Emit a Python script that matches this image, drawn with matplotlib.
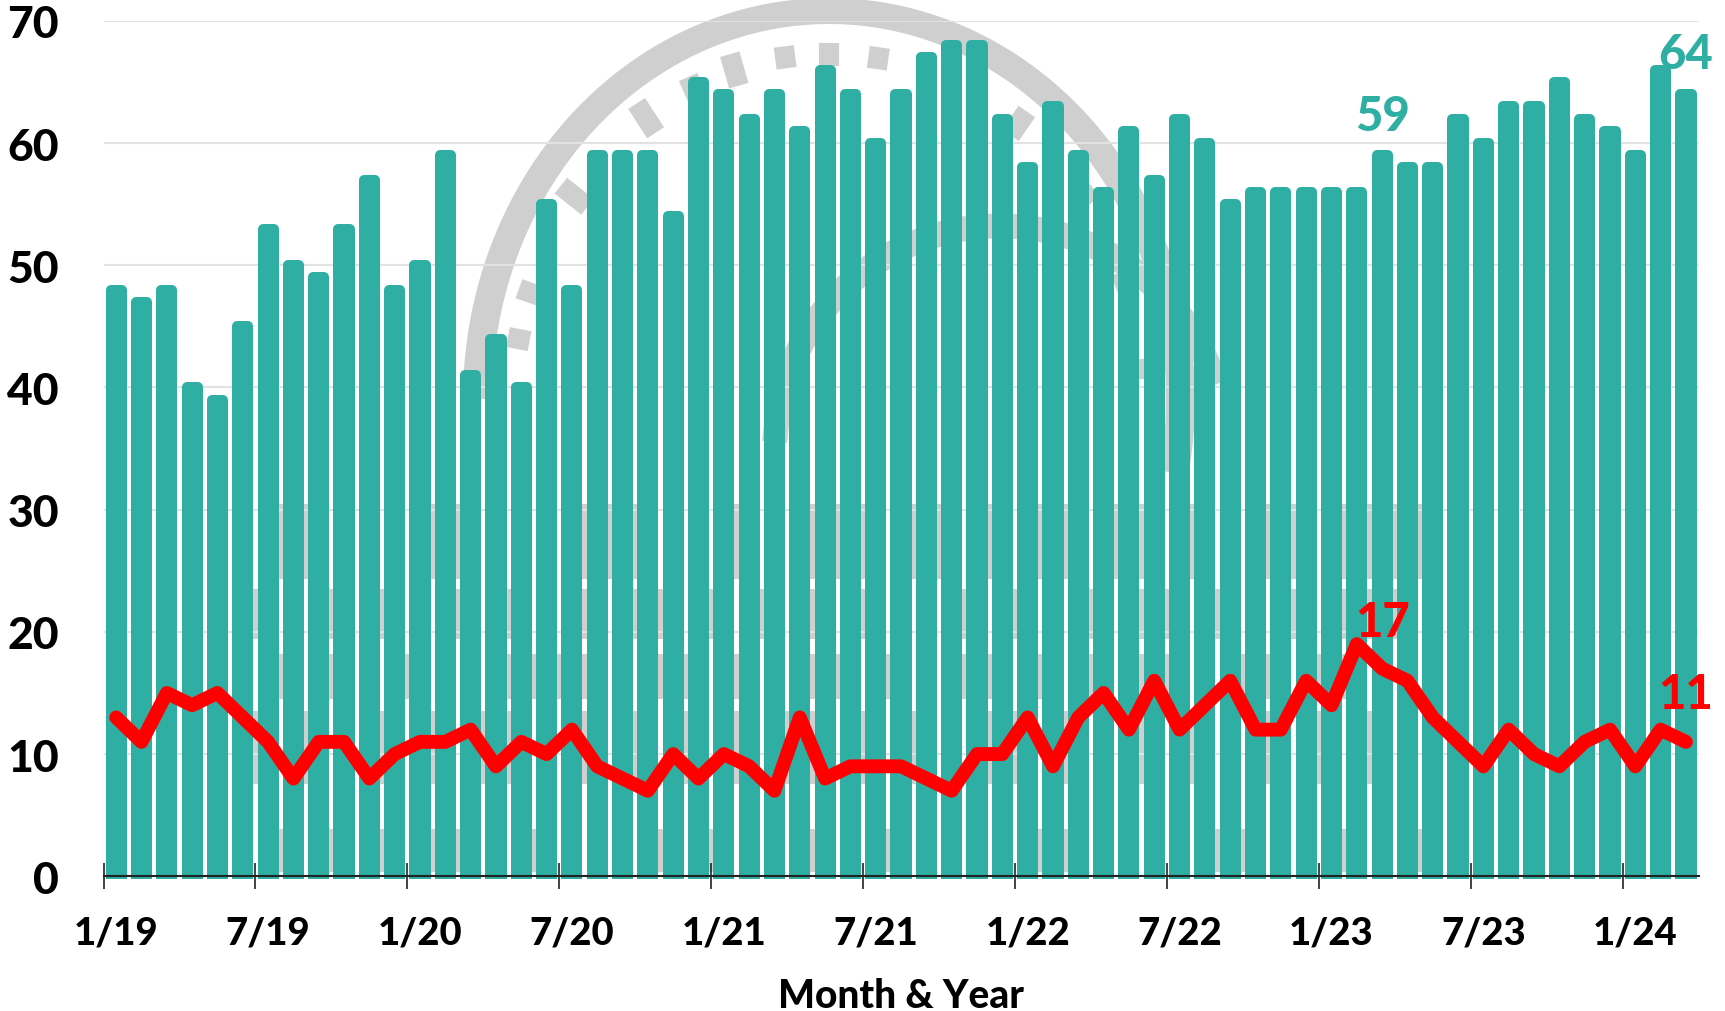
import numpy as np
import matplotlib
matplotlib.use("Agg")
import matplotlib.pyplot as plt
from matplotlib.patches import Rectangle, Polygon

months = ["1/19","7/19","1/20","7/20","1/21","7/21","1/22","7/22","1/23","7/23","1/24"]
bars = [48,47,48,40,39,45, 53,50,49,53,57,48, 50,59,41,44,40,55,
        48,59,59,59,54,65, 64,62,64,61,66,64, 60,64,67,68,68,62,
        58,63,59,56,61,57, 62,60,55,56,56,56, 56,56,59,58,58,62,
        60,63,63,65,62,61, 59,66,64]
line = [13,11,15,14,15,13, 11,8,11,11,8,10, 11,11,12,9,11,10,
        12,9,8,7,10,8, 10,9,7,13,8,9, 9,9,8,7,10,10,
        13,9,13,15,12,16, 12,14,16,12,12,16, 14,19,17,16,13,11,
        9,12,10,9,11,12, 9,12,11]
yticks = [0,10,20,30,40,50,60,70]
TEAL = "#2FAFA3"; RED = "#FF0000"; GREY = "#CFCFCF"
plt.rcParams['font.family'] = ['Lato', 'DejaVu Sans']
WEIGHT = 900

W, H = 1725, 1012
fig = plt.figure(figsize=(W/100, H/100), dpi=100, facecolor="white")
x_left, x_right, y0px, y70px = 103.5, 1698.6, 877.3, 21.8

# watermark (seal) behind the chart, in pixel coordinates
bg = fig.add_axes([0, 0, 1, 1], zorder=-1)
bg.set_xlim(0, W); bg.set_ylim(H, 0); bg.axis("off")
cx, cy = 829, 400
t = np.radians(np.linspace(-11, 180, 300))
outer = np.c_[cx + 366*np.cos(t), cy - 401*np.sin(t)]
inner = np.c_[cx + 337*np.cos(t), cy - 375*np.sin(t)]
bg.add_patch(Polygon(np.r_[outer, inner[::-1]], closed=True, fc=GREY, ec="none"))
dashes = [(170,24),(162,24),(144,36),(125.5,36),(115.6,24),(107.5,33),(98,22),(90,23),(81,22),
          (53,30),(36,26),(20,24),(5,24)]
for ang, ln in dashes:
    a = np.radians(ang)
    dr = ln/2/345
    bg.plot([cx + 315*(1+dr)*np.cos(a), cx + 315*(1-dr)*np.cos(a)],
            [cy - 345*(1+dr)*np.sin(a), cy - 345*(1-dr)*np.sin(a)],
            color=GREY, lw=14.5, solid_capstyle="butt")
t2 = np.radians(np.linspace(20, 175, 100))
bg.plot(1000 + 225*np.cos(t2), 450 - 223*np.sin(t2), color=GREY, lw=18)
# faint lettering of the seal, seen only through the gaps between bars
stripes = [
    (505, 580, [7,8,13,14,19,20,21,25,28,29,30,32,33,35,37,38,40,41,43,46,47,49,50,51,52]),
    (590, 640, [6,9,11,14,16,19,21,22,24,26,28,30,34,36,39,41,42,44,47,49,50,51]),
    (655, 700, [7,9,12,16,17,18,19,22,23,25,28,29,31,34,35,37,39,41,42,45,46,48,49]),
    (712, 785, [6,8,11,13,15,16,19,21,23,25,27,28,30,32,35,36,38,41,43,46,48,50]),
    (830, 873, [7,9,11,13,14,17,22,24,28,31,37,38,44,45,49,52]),
]
for y0, y1, ks in stripes:
    for k in ks:
        xk = x_left + k*(x_right-x_left)/63
        bg.add_patch(Rectangle((xk-5, y0), 10, y1-y0, fc=GREY, ec="none"))

# main axes
ax = fig.add_axes([x_left/W, 1-y0px/H, (x_right-x_left)/W, (y0px-y70px)/H])
ax.patch.set_alpha(0)
x = np.arange(len(bars)) + 0.5
ax.set_xlim(0, len(bars)); ax.set_ylim(0, 70)
ax.set_yticks(yticks)
ax.yaxis.grid(True, color="#E2E2E2", lw=1.5, zorder=0)
ax.set_axisbelow(True)

clip = Rectangle((-1, -0.2), len(bars)+2, 90, transform=ax.transData)
rects = ax.bar(x, np.array(bars)+1, bottom=-1, width=0.44, color=TEAL, edgecolor=TEAL,
               linewidth=7.2, zorder=2)
for r in rects:
    r.set_joinstyle("round")
    r.set_clip_path(clip)

ax.plot(x, line, color=RED, lw=10, solid_joinstyle="round", solid_capstyle="round",
        zorder=4, clip_on=False)

for s in ["top", "left", "right"]:
    ax.spines[s].set_visible(False)
ax.spines["bottom"].set_color("#222222"); ax.spines["bottom"].set_linewidth(1.5)
ax.spines["bottom"].set_zorder(5)

ax.set_xticks(np.arange(0, len(bars), 6))
ax.set_xticklabels([])
ax.tick_params(axis="x", which="major", direction="inout", length=19, width=1.2, color="#222222")
ax.set_xticks(np.arange(0, len(bars), 6)+0.5, minor=True)
ax.set_xticklabels(months, minor=True, fontsize=27.5, fontweight=WEIGHT)
ax.tick_params(axis="x", which="minor", length=0, pad=28)
ax.tick_params(axis="y", length=0, pad=32, labelsize=32)
for l in ax.get_yticklabels():
    l.set_fontweight(WEIGHT)
ax.set_xlabel("Month & Year", fontsize=28, fontweight=WEIGHT, labelpad=20)

ax.text(x[50], 62.2, "59", color=TEAL, fontsize=34, fontweight=WEIGHT, ha="center", va="center", zorder=6)
ax.text(x[62], 67.3, "64", color=TEAL, fontsize=34, fontweight=WEIGHT, ha="center", va="center", zorder=6, clip_on=False)
ax.text(x[50], 20.8, "17", color=RED, fontsize=34, fontweight=WEIGHT, ha="center", va="center", zorder=6)
ax.text(x[62], 14.9, "11", color=RED, fontsize=34, fontweight=WEIGHT, ha="center", va="center", zorder=6, clip_on=False)

fig.savefig("out.png", dpi=100)
